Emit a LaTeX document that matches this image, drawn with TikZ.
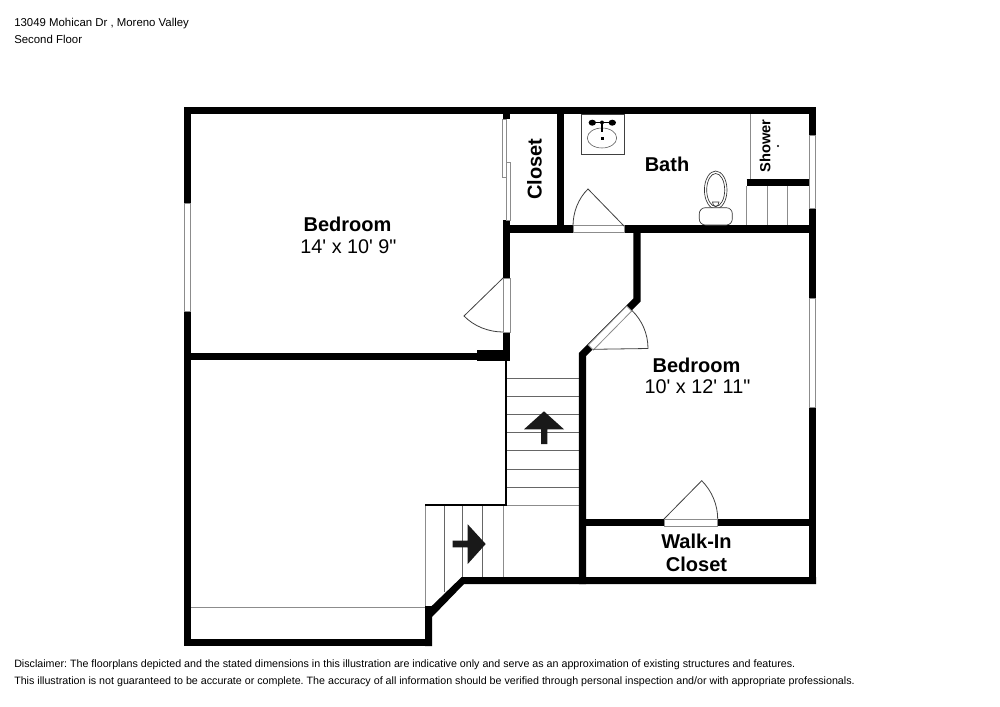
\documentclass[tikz,border=0pt]{standalone}
\usepackage{fontspec}
\setmainfont{Liberation Sans}
\newfontfamily\straightfont[Ligatures=NoCommon]{Liberation Sans}
\frenchspacing
\begin{document}
\begin{tikzpicture}[x=0.75pt,y=-0.75pt,
  wall/.style={line width=5.4pt,line cap=butt,line join=miter,black},
  thin/.style={line width=0.6pt,draw=black!75},
  gray/.style={line width=0.75pt,draw=black!45},
  tread/.style={line width=0.7pt,draw=black!60},
  opening/.style={fill=white,draw=black!45,line width=0.6pt},
  room/.style={font=\fontsize{15}{17.2}\selectfont\bfseries,align=center,inner sep=0pt},
  dim/.style={font=\straightfont\fontsize{14.85}{17}\selectfont,inner sep=0pt},
  small/.style={font=\fontsize{8.55}{10}\selectfont,anchor=base west,inner sep=0pt},
  foot/.style={font=\fontsize{8.02}{10}\selectfont,anchor=base west,inner sep=0pt}]
\useasboundingbox (0,0) rectangle (1000,707);
% stairs treads
\foreach \yy in {378,396,414,432,450.5,469,487}{\draw[tread] (507,\yy) -- (579,\yy);}
\draw[gray] (507,505) -- (579,505);
\draw[gray] (425.7,505) -- (425.7,606);
\draw[tread] (444.5,505) -- (444.5,592);
\draw[tread] (462,505) -- (462,577);
\draw[tread] (482,505) -- (482,577);
\draw[gray] (503,505) -- (503,577);
\draw[gray] (191,607) -- (425,607);
% walls
\draw[wall] (184,110.5) -- (816,110.5);
\draw[wall] (187.5,107) -- (187.5,646);
\draw[wall] (184,642.5) -- (432,642.5);
\fill[black] (425,606) -- (431.7,606) -- (461.7,577) -- (816,577) -- (816,584) -- (464,584) -- (432,617) -- (432,646) -- (425,646) -- cycle;
\draw[wall] (812.5,107) -- (812.5,584);
\draw[wall] (191,356.5) -- (510,356.5);
\fill[black] (477,350) rectangle (510,361);
\draw[wall] (506.5,225) -- (506.5,361);
\draw[wall] (503,229) -- (816,229);
\draw[wall] (506.5,107) -- (506.5,120);
\draw[wall] (506.5,220) -- (506.5,232);
\draw[wall] (560.5,107) -- (560.5,229);
\draw[wall] (582.5,584) -- (582.5,354.5) -- (637,300) -- (637,229);
\draw[wall] (586,522.5) -- (809,522.5);
\draw[wall] (746.7,182.5) -- (809,182.5);
% thin stair walls
\draw[line width=1.5pt,black] (506,361) -- (506,504.5) -- (425,504.5);
% windows
\draw[opening] (184.5,203) rectangle (190.5,311);
\draw[opening] (809.5,135) rectangle (815.5,208);
\draw[opening] (809.5,298) rectangle (815.5,407);
% closet sliders
\fill[white] (502.5,114) rectangle (510,220);
\fill[black] (503,114) rectangle (510,119);
\draw[opening] (502,119) rectangle (506,177);
\draw[opening] (506,162) rectangle (510,220);
% door openings
\draw[opening] (503,278) rectangle (510,332);
\draw[opening] (573,225.5) rectangle (624,232.5);
\draw[opening] (664,519) rectangle (717.7,526);
\draw[opening] (588.3,345) -- (626.7,306) -- (631.7,311) -- (593.3,350) -- cycle;
% door leaves
\draw[thin] (503,278) -- (464,316) .. controls (474,326.3) and (488.6,332) .. (503,332);
\draw[thin] (624,226) -- (588,189) .. controls (578.2,198.5) and (573,212.5) .. (573,226);
\draw[thin] (664,519) -- (701.7,480.7) .. controls (711.8,490.7) and (717.7,504.8) .. (717.7,519);
\draw[thin] (593.3,349.3) -- (648,348.5) .. controls (648,334) and (642.2,320.5) .. (632,310.5);
% shower
\draw[gray] (750,114) -- (750,179);
\draw[gray] (746.7,186) -- (746.7,225);
\draw[gray] (767.5,186) -- (767.5,225);
\draw[gray] (787.5,186) -- (787.5,225);
\fill (778,146) circle (1.1);
% sink
\draw[thin] (581.7,114) rectangle (624.7,154);
\draw[line width=0.4pt,black!70] (602,138) ellipse (14.7 and 10);
\fill (592.3,122.7) ellipse (3.7 and 3);
\fill (612.3,122.7) ellipse (3.7 and 3);
\draw[line width=0.8pt] (592,122.7) -- (612,122.7);
\fill (602,122.5) circle (2);
\draw[line width=1pt] (602,122.7) -- (602,132);
\fill (600.5,136.5) rectangle (603.5,139.5);
% toilet
\draw[line width=0.5pt,black!80] (715.7,190) ellipse (11.3 and 19);
\draw[line width=0.5pt,black!80] (715.7,190) ellipse (9 and 16.5);
\draw[line width=0.5pt,black!80] (712.5,202) arc[start angle=180,end angle=0,x radius=3.2,y radius=4.5] -- cycle;
\draw[line width=0.5pt,black!80,rounded corners=4.5pt,fill=white] (699.3,207.7) rectangle (732.3,225);
% arrows
\fill[black!90] (544,411.3) -- (564,429.3) -- (547.3,429.3) -- (547.3,444) -- (541,444) -- (541,429.3) -- (524,429.3) -- cycle;
\fill[black!90] (485.7,544) -- (467.7,564) -- (467.7,547.3) -- (452.7,547.3) -- (452.7,540.7) -- (467.7,540.7) -- (467.7,524.3) -- cycle;
% labels
\node[small] (t1) at (14,26) {13049 Mohican Dr , Moreno Valley};
\node[small] (t2) at (14,43.5) {Second Floor};
\node[room] (bd1) at (347.5,224) {Bedroom};
\node[dim] (bd1d) at (348.5,247) {14' x 10' 9"};
\node[room] (bd2) at (696.5,365) {Bedroom};
\node[dim] (bd2d) at (697.5,387) {10' x 12' 11"};
\node[room] (ba) at (667,164.5) {Bath};
\node[room,rotate=90] (cl) at (534.5,169) {Closet};
\node[font=\fontsize{11}{13}\selectfont\bfseries,inner sep=0pt,rotate=90] (sh) at (765,146) {Shower};
\node[room] (wi) at (696.5,552.5) {Walk-In\\Closet};
\node[foot] (d1) at (14,667) {Disclaimer: The floorplans depicted and the stated dimensions in this illustration are indicative only and serve as an approximation of existing structures and features.};
\node[foot] (d2) at (14,684.5) {This illustration is not guaranteed to be accurate or complete. The accuracy of all information should be verified through personal inspection and/or with appropriate professionals.};
\end{tikzpicture}
\end{document}
